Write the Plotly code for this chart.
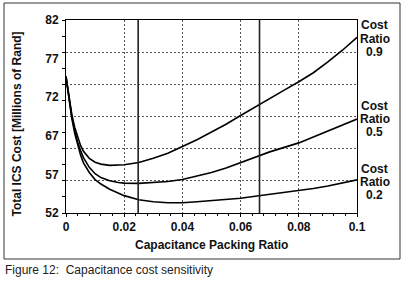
import plotly.graph_objects as go

# ---- data ----
packing_ratio = [0, 0.001, 0.002, 0.003, 0.004, 0.005, 0.006, 0.008, 0.010, 0.012,
                 0.015, 0.018, 0.020, 0.025, 0.030, 0.035, 0.040, 0.045, 0.050, 0.055,
                 0.060, 0.065, 0.070, 0.075, 0.080, 0.085, 0.090, 0.095, 0.100]
cost_ratio_09 = [73.2, 70.0, 67.3, 65.3, 63.7, 62.5, 61.6, 60.5, 59.9, 59.6,
                 59.4, 59.4, 59.5, 59.85, 60.5, 61.3, 62.3, 63.4, 64.6, 65.8,
                 67.15, 68.5, 69.8, 71.1, 72.4, 73.8, 75.5, 77.3, 79.3]
cost_ratio_05 = [73.2, 69.8, 67.0, 64.8, 63.0, 61.7, 60.6, 59.1, 58.1, 57.5,
                 57.0, 56.75, 56.65, 56.6, 56.7, 56.9, 57.2, 57.7, 58.3, 59.0,
                 59.85, 60.7, 61.5, 62.2, 62.9, 63.8, 64.7, 65.6, 66.6]
cost_ratio_02 = [73.2, 69.6, 66.7, 64.4, 62.5, 61.0, 59.8, 58.3, 57.2, 56.5,
                 55.7, 55.1, 54.7, 54.05, 53.75, 53.6, 53.6, 53.75, 53.9, 54.1,
                 54.3, 54.6, 54.9, 55.15, 55.45, 55.8, 56.2, 56.65, 57.15]
series_names = ["Cost Ratio 0.9", "Cost Ratio 0.5", "Cost Ratio 0.2"]
series_label_lines = [["Cost", "Ratio", "0.9"], ["Cost", "Ratio", "0.5"], ["Cost", "Ratio", "0.2"]]

marker_x = [0.0248, 0.0665]          # solid vertical reference lines

x_tick_vals = [0, 0.02, 0.04, 0.06, 0.08, 0.1]
x_tick_text = ["0", "0.02", "0.04", "0.06", "0.08", "0.1"]
y_grid_vals = [57, 62, 67, 72, 77]
# labels as printed in the reference (evenly spread, not on the grid)
y_label_pos = [82, 76, 70, 64, 58, 52]
y_label_text = ["82", "77", "72", "67", "57", "52"]

FONT = "Arial, 'Liberation Sans', sans-serif"

# layout geometry (pixels)
W, H = 410, 283
L, R, T, B = 66, 53, 20, 70
PW, PH = W - L - R, H - T - B


def px(xp):
    return (xp - L) / PW


def py(yp):
    return (H - B - yp) / PH


fig = go.Figure()
for name, ys in zip(series_names, [cost_ratio_09, cost_ratio_05, cost_ratio_02]):
    fig.add_trace(go.Scatter(x=packing_ratio, y=ys, mode="lines", name=name,
                             line=dict(color="black", width=1.6), showlegend=False))

# invisible trace to make the overlay axis render
fig.add_trace(go.Scatter(x=[0], y=[52], yaxis="y2", mode="markers",
                         marker=dict(opacity=0), showlegend=False, hoverinfo="skip"))

for mx in marker_x:
    fig.add_shape(type="line", xref="x", yref="paper", x0=mx, x1=mx, y0=0, y1=1,
                  line=dict(color="#222", width=1.6))

# outer frame
fig.add_shape(type="rect", xref="paper", yref="paper",
              x0=px(4), x1=px(400), y0=py(259), y1=py(3),
              line=dict(color="#333", width=1))

annotations = []
group_y = [[25, 38.5, 52], [105.5, 118.5, 131.5], [168.5, 181.5, 195]]
for lines, ys in zip(series_label_lines, group_y):
    for t, yy in zip(lines, ys):
        annotations.append(dict(text="<b>" + t + "</b>", x=px(374.5), y=py(yy),
                                xref="paper", yref="paper",
                                showarrow=False, xanchor="center", yanchor="middle",
                                font=dict(family=FONT, size=12, color="#111")))
annotations.append(dict(text="<b>Capacitance Packing Ratio</b>", x=px(211.5), y=py(245),
                        xref="paper", yref="paper", showarrow=False,
                        xanchor="center", yanchor="middle",
                        font=dict(family=FONT, size=12, color="#111")))
annotations.append(dict(text="<b>Total ICS Cost [Millions of Rand]</b>", x=px(17), y=py(124.5),
                        xref="paper", yref="paper", showarrow=False, textangle=-90,
                        xanchor="center", yanchor="middle",
                        font=dict(family=FONT, size=12, color="#111")))
annotations.append(dict(text="Figure 12:  Capacitance cost sensitivity", x=px(3), y=py(270),
                        xref="paper", yref="paper", showarrow=False,
                        xanchor="left", yanchor="middle",
                        font=dict(family=FONT, size=12, color="#222")))

fig.update_layout(
    width=W, height=H,
    margin=dict(l=L, r=R, t=T, b=B, pad=0),
    paper_bgcolor="white", plot_bgcolor="white",
    font=dict(family=FONT, size=12, color="#111"),
    annotations=annotations,
    xaxis=dict(range=[0, 0.1], tickvals=x_tick_vals, ticktext=x_tick_text,
               showgrid=True, gridcolor="#555", gridwidth=1, griddash="2px,2px",
               showline=True, linecolor="black", linewidth=1, mirror=True,
               ticks="outside", ticklen=3, tickcolor="black",
               tickfont=dict(family=FONT, size=12, color="#111", weight="bold"),
               minor=dict(dtick=0.004, tick0=0, ticks="outside", ticklen=2, tickcolor="black"),
               zeroline=False, fixedrange=True),
    yaxis=dict(range=[52, 82], tickvals=y_label_pos, ticktext=y_label_text,
               showgrid=False, ticks="", ticklabelstandoff=4,
               showline=True, linecolor="black", linewidth=1, mirror=True,
               tickfont=dict(family=FONT, size=12, color="#111", weight="bold"),
               minor=dict(tickvals=y_grid_vals, showgrid=True, gridcolor="#555",
                          gridwidth=1, griddash="2px,2px", ticks=""),
               zeroline=False, fixedrange=True),
    yaxis2=dict(range=[52, 82], overlaying="y", side="left", dtick=2.5, tick0=52,
                showgrid=False, showticklabels=False, ticks="outside", ticklen=3,
                tickcolor="black", showline=False, zeroline=False, fixedrange=True),
)

fig.write_html("out.html", config={"displayModeBar": False},
               post_script="document.body.style.margin='0';document.body.style.padding='0';")
